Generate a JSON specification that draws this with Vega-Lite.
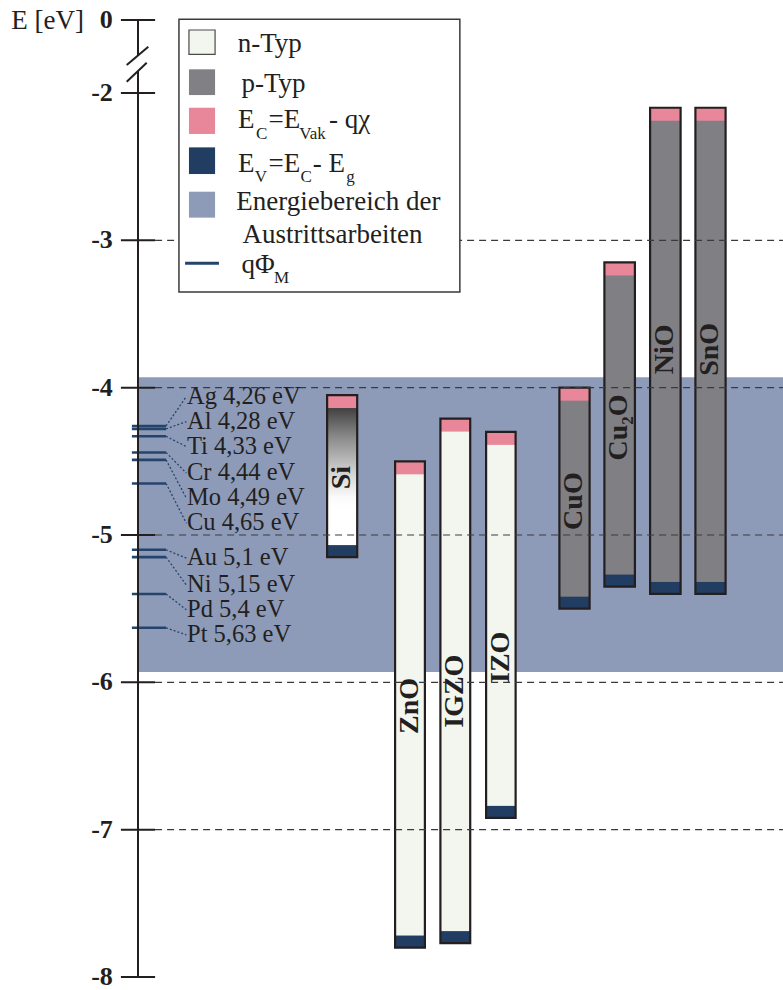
{
  "$schema": "https://vega.github.io/schema/vega-lite/v6.json",
  "width": 645,
  "height": 957,
  "autosize": {"type": "none"},
  "padding": {"left": 138, "top": 20, "right": 0, "bottom": 13},
  "background": "#ffffff",
  "config": {"view": {"stroke": null}, "font": "Liberation Serif"},
  "datasets": {
    "materials": [
      {"material": "Si", "typ": "Si", "ec": -4.05, "ev": -5.15, "x0": 5.864, "x1": 6.797, "label_y": -4.61},
      {"material": "ZnO", "typ": "n", "ec": -4.5, "ev": -7.8, "x0": 7.972, "x1": 8.896, "label_y": -6.16},
      {"material": "IGZO", "typ": "n", "ec": -4.21, "ev": -7.77, "x0": 9.377, "x1": 10.301, "label_y": -6.06},
      {"material": "IZO", "typ": "n", "ec": -4.3, "ev": -6.92, "x0": 10.794, "x1": 11.709, "label_y": -5.83},
      {"material": "CuO", "typ": "p", "ec": -4.0, "ev": -5.5, "x0": 13.067, "x1": 14.003, "label_y": -4.77},
      {"material": "Cu₂O", "typ": "p", "ec": -3.15, "ev": -5.35, "x0": 14.462, "x1": 15.408, "label_y": -4.27},
      {"material": "NiO", "typ": "p", "ec": -2.1, "ev": -5.4, "x0": 15.879, "x1": 16.825, "label_y": -3.74},
      {"material": "SnO", "typ": "p", "ec": -2.1, "ev": -5.4, "x0": 17.284, "x1": 18.22, "label_y": -3.74}
    ],
    "metals": [
      {"label": "Ag 4,26 eV", "e": -4.26, "label_y": -4.06},
      {"label": "Al 4,28 eV", "e": -4.28, "label_y": -4.23},
      {"label": "Ti 4,33 eV", "e": -4.33, "label_y": -4.4},
      {"label": "Cr 4,44 eV", "e": -4.44, "label_y": -4.58},
      {"label": "Mo 4,49 eV", "e": -4.49, "label_y": -4.75},
      {"label": "Cu 4,65 eV", "e": -4.65, "label_y": -4.92},
      {"label": "Au 5,1 eV", "e": -5.1, "label_y": -5.157},
      {"label": "Ni 5,15 eV", "e": -5.15, "label_y": -5.34},
      {"label": "Pd 5,4 eV", "e": -5.4, "label_y": -5.508},
      {"label": "Pt 5,63 eV", "e": -5.63, "label_y": -5.678}
    ],
    "ticks": [
      {"e": -8, "label": "-8"}, {"e": -7, "label": "-7"}, {"e": -6, "label": "-6"},
      {"e": -5, "label": "-5"}, {"e": -4, "label": "-4"}, {"e": -3, "label": "-3"},
      {"e": -2, "label": "-2"}, {"e": 0, "label": "0"}
    ],
    "grid": [{"e": -3}, {"e": -4}, {"e": -5}, {"e": -6}, {"e": -7}],
    "axis_line": [{"top": 0, "bottom": -0.98}, {"top": -1.4, "bottom": -8}],
    "axis_break": [
      {"xa": -0.35, "ya": -1.233, "xb": 0.32, "yb": -0.73},
      {"xa": -0.35, "ya": -1.69, "xb": 0.27, "yb": -1.17}
    ],
    "legend_swatches": [
      {"item": "n-Typ", "x0": 1.58, "x1": 2.39, "e0": -0.274, "e1": -0.94},
      {"item": "p-Typ", "x0": 1.58, "x1": 2.39, "e0": -1.351, "e1": -2.014},
      {"item": "E_C", "x0": 1.58, "x1": 2.39, "e0": -2.1, "e1": -2.278},
      {"item": "E_V", "x0": 1.58, "x1": 2.39, "e0": -2.369, "e1": -2.55},
      {"item": "Austrittsarbeiten", "x0": 1.58, "x1": 2.39, "e0": -2.67, "e1": -2.846}
    ],
    "legend_text": [
      {"text": "n-Typ", "x": 3.09, "e": -0.868},
      {"text": "p-Typ", "x": 3.21, "e": -1.964},
      {"text": "E", "x": 3.1, "e": -2.24},
      {"text": "=E", "x": 4.05, "e": -2.24},
      {"text": "- qχ", "x": 5.92, "e": -2.24},
      {"text": "E", "x": 3.1, "e": -2.534},
      {"text": "=E", "x": 4.05, "e": -2.534},
      {"text": "- E", "x": 5.42, "e": -2.534},
      {"text": "Energiebereich der", "x": 3.05, "e": -2.794},
      {"text": "Austrittsarbeiten", "x": 3.24, "e": -3.018},
      {"text": "qΦ", "x": 3.21, "e": -3.222}
    ],
    "legend_sub": [
      {"text": "C", "x": 3.66, "e": -2.315},
      {"text": "Vak", "x": 5.0, "e": -2.315},
      {"text": "V", "x": 3.62, "e": -2.602},
      {"text": "C", "x": 5.04, "e": -2.602},
      {"text": "g", "x": 6.46, "e": -2.602},
      {"text": "M", "x": 4.22, "e": -3.288}
    ]
  },
  "layer": [
    {
      "data": {"values": [{"top": -3.93, "bottom": -5.93}]},
      "mark": {"type": "rect", "fill": "#8e9bb8"},
      "encoding": {
        "x": {"datum": 0, "type": "quantitative", "scale": {"domain": [0, 20], "nice": false, "zero": false}, "axis": null},
        "x2": {"datum": 20},
        "y": {"field": "top", "type": "quantitative", "scale": {"domain": [-8, -2, 0], "range": [957, 73, 0], "nice": false, "zero": false}, "axis": null},
        "y2": {"field": "bottom"}
      }
    },
    {
      "data": {"name": "materials"},
      "transform": [{"filter": "datum.typ !== 'Si'"}],
      "mark": {"type": "rect"},
      "encoding": {
        "x": {"field": "x0", "type": "quantitative", "scale": {"domain": [0, 20], "nice": false, "zero": false}, "axis": null},
        "x2": {"field": "x1"},
        "y": {"field": "ec", "type": "quantitative", "scale": {"domain": [-8, -2, 0], "range": [957, 73, 0], "nice": false, "zero": false}, "axis": null},
        "y2": {"field": "ev"},
        "color": {"field": "typ", "type": "nominal", "scale": {"domain": ["n", "p"], "range": ["#f2f6ef", "#808084"]}, "legend": null}
      }
    },
    {
      "data": {"name": "materials"},
      "transform": [{"filter": "datum.typ === 'Si'"}],
      "mark": {
        "type": "rect",
        "fill": {
          "gradient": "linear", "x1": 0, "y1": 0, "x2": 0, "y2": 1,
          "stops": [
            {"offset": 0, "color": "#404040"},
            {"offset": 0.09, "color": "#454545"},
            {"offset": 0.26, "color": "#8a8a8a"},
            {"offset": 0.47, "color": "#cfcfcf"},
            {"offset": 0.63, "color": "#fafafa"},
            {"offset": 0.7, "color": "#ffffff"},
            {"offset": 1, "color": "#ffffff"}
          ]
        }
      },
      "encoding": {
        "x": {"field": "x0", "type": "quantitative", "scale": {"domain": [0, 20], "nice": false, "zero": false}, "axis": null},
        "x2": {"field": "x1"},
        "y": {"field": "ec", "type": "quantitative", "scale": {"domain": [-8, -2, 0], "range": [957, 73, 0], "nice": false, "zero": false}, "axis": null},
        "y2": {"field": "ev"}
      }
    },
    {
      "data": {"name": "materials"},
      "mark": {"type": "rule", "color": "#e8879a", "strokeWidth": 13, "strokeCap": "butt", "yOffset": 6.5},
      "encoding": {
        "x": {"field": "x0", "type": "quantitative", "scale": {"domain": [0, 20], "nice": false, "zero": false}, "axis": null},
        "x2": {"field": "x1"},
        "y": {"field": "ec", "type": "quantitative", "scale": {"domain": [-8, -2, 0], "range": [957, 73, 0], "nice": false, "zero": false}, "axis": null}
      }
    },
    {
      "data": {"name": "materials"},
      "mark": {"type": "rule", "color": "#213e62", "strokeWidth": 12, "strokeCap": "butt", "yOffset": -6},
      "encoding": {
        "x": {"field": "x0", "type": "quantitative", "scale": {"domain": [0, 20], "nice": false, "zero": false}, "axis": null},
        "x2": {"field": "x1"},
        "y": {"field": "ev", "type": "quantitative", "scale": {"domain": [-8, -2, 0], "range": [957, 73, 0], "nice": false, "zero": false}, "axis": null}
      }
    },
    {
      "data": {"name": "materials"},
      "mark": {"type": "rect", "fill": "transparent", "stroke": "#231f20", "strokeWidth": 2.2},
      "encoding": {
        "x": {"field": "x0", "type": "quantitative", "scale": {"domain": [0, 20], "nice": false, "zero": false}, "axis": null},
        "x2": {"field": "x1"},
        "y": {"field": "ec", "type": "quantitative", "scale": {"domain": [-8, -2, 0], "range": [957, 73, 0], "nice": false, "zero": false}, "axis": null},
        "y2": {"field": "ev"}
      }
    },
    {
      "data": {"name": "grid"},
      "mark": {"type": "rule", "color": "#3a3a3a", "strokeWidth": 1.2, "strokeDash": [7, 5]},
      "encoding": {
        "x": {"datum": 0.53, "type": "quantitative", "scale": {"domain": [0, 20], "nice": false, "zero": false}, "axis": null},
        "x2": {"datum": 20},
        "y": {"field": "e", "type": "quantitative", "scale": {"domain": [-8, -2, 0], "range": [957, 73, 0], "nice": false, "zero": false}, "axis": null}
      }
    },
    {
      "data": {"name": "metals"},
      "mark": {"type": "rule", "color": "#24446b", "strokeWidth": 2.6},
      "encoding": {
        "x": {"datum": -0.19, "type": "quantitative", "scale": {"domain": [0, 20], "nice": false, "zero": false}, "axis": null},
        "x2": {"datum": 0.87},
        "y": {"field": "e", "type": "quantitative", "scale": {"domain": [-8, -2, 0], "range": [957, 73, 0], "nice": false, "zero": false}, "axis": null}
      }
    },
    {
      "data": {"name": "metals"},
      "mark": {"type": "rule", "color": "#24446b", "strokeWidth": 1.3, "strokeDash": [2, 2]},
      "encoding": {
        "x": {"datum": 0.87, "type": "quantitative", "scale": {"domain": [0, 20], "nice": false, "zero": false}, "axis": null},
        "x2": {"datum": 1.5},
        "y": {"field": "e", "type": "quantitative", "scale": {"domain": [-8, -2, 0], "range": [957, 73, 0], "nice": false, "zero": false}, "axis": null},
        "y2": {"field": "label_y"}
      }
    },
    {
      "data": {"name": "metals"},
      "mark": {"type": "text", "align": "left", "baseline": "middle", "font": "Liberation Serif", "fontSize": 24.5, "color": "#231f20"},
      "encoding": {
        "x": {"datum": 1.52, "type": "quantitative", "scale": {"domain": [0, 20], "nice": false, "zero": false}, "axis": null},
        "y": {"field": "label_y", "type": "quantitative", "scale": {"domain": [-8, -2, 0], "range": [957, 73, 0], "nice": false, "zero": false}, "axis": null},
        "text": {"field": "label"}
      }
    },
    {
      "data": {"name": "materials"},
      "mark": {"type": "text", "angle": 270, "align": "center", "baseline": "middle", "font": "Liberation Serif", "fontWeight": "bold", "fontSize": 28, "color": "#231f20", "xOffset": 15},
      "encoding": {
        "x": {"field": "x0", "type": "quantitative", "scale": {"domain": [0, 20], "nice": false, "zero": false}, "axis": null},
        "y": {"field": "label_y", "type": "quantitative", "scale": {"domain": [-8, -2, 0], "range": [957, 73, 0], "nice": false, "zero": false}, "axis": null},
        "text": {"field": "material"}
      }
    },
    {
      "data": {"name": "axis_line"},
      "mark": {"type": "rule", "color": "#231f20", "strokeWidth": 2},
      "encoding": {
        "x": {"datum": 0, "type": "quantitative", "scale": {"domain": [0, 20], "nice": false, "zero": false}, "axis": null},
        "y": {"field": "top", "type": "quantitative", "scale": {"domain": [-8, -2, 0], "range": [957, 73, 0], "nice": false, "zero": false}, "axis": null},
        "y2": {"field": "bottom"}
      }
    },
    {
      "data": {"name": "ticks"},
      "mark": {"type": "rule", "color": "#231f20", "strokeWidth": 2},
      "encoding": {
        "x": {"datum": -0.53, "type": "quantitative", "scale": {"domain": [0, 20], "nice": false, "zero": false}, "axis": null},
        "x2": {"datum": 0.53},
        "y": {"field": "e", "type": "quantitative", "scale": {"domain": [-8, -2, 0], "range": [957, 73, 0], "nice": false, "zero": false}, "axis": null}
      }
    },
    {
      "data": {"name": "ticks"},
      "mark": {"type": "text", "align": "right", "baseline": "middle", "font": "Liberation Serif", "fontWeight": "bold", "fontSize": 26, "color": "#231f20"},
      "encoding": {
        "x": {"datum": -0.78, "type": "quantitative", "scale": {"domain": [0, 20], "nice": false, "zero": false}, "axis": null},
        "y": {"field": "e", "type": "quantitative", "scale": {"domain": [-8, -2, 0], "range": [957, 73, 0], "nice": false, "zero": false}, "axis": null},
        "text": {"field": "label"}
      }
    },
    {
      "data": {"values": [{"title": "E [eV]", "x": -3.93, "e": -0.247}]},
      "mark": {"type": "text", "align": "left", "baseline": "alphabetic", "font": "Liberation Serif", "fontSize": 27, "color": "#231f20"},
      "encoding": {
        "x": {"field": "x", "type": "quantitative", "scale": {"domain": [0, 20], "nice": false, "zero": false}, "axis": null},
        "y": {"field": "e", "type": "quantitative", "scale": {"domain": [-8, -2, 0], "range": [957, 73, 0], "nice": false, "zero": false}, "axis": null},
        "text": {"field": "title"}
      }
    },
    {
      "data": {"name": "axis_break"},
      "mark": {"type": "rule", "color": "#231f20", "strokeWidth": 2},
      "encoding": {
        "x": {"field": "xa", "type": "quantitative", "scale": {"domain": [0, 20], "nice": false, "zero": false}, "axis": null},
        "x2": {"field": "xb"},
        "y": {"field": "ya", "type": "quantitative", "scale": {"domain": [-8, -2, 0], "range": [957, 73, 0], "nice": false, "zero": false}, "axis": null},
        "y2": {"field": "yb"}
      }
    },
    {
      "data": {"values": [{"x0": 1.27, "x1": 9.98, "e0": 0.02, "e1": -3.35}]},
      "mark": {"type": "rect", "fill": "#ffffff", "stroke": "#3a3a3a", "strokeWidth": 1.5},
      "encoding": {
        "x": {"field": "x0", "type": "quantitative", "scale": {"domain": [0, 20], "nice": false, "zero": false}, "axis": null},
        "x2": {"field": "x1"},
        "y": {"field": "e0", "type": "quantitative", "scale": {"domain": [-8, -2, 0], "range": [957, 73, 0], "nice": false, "zero": false}, "axis": null},
        "y2": {"field": "e1"}
      }
    },
    {
      "data": {"name": "legend_swatches"},
      "mark": {"type": "rect", "strokeWidth": 1.2},
      "encoding": {
        "x": {"field": "x0", "type": "quantitative", "scale": {"domain": [0, 20], "nice": false, "zero": false}, "axis": null},
        "x2": {"field": "x1"},
        "y": {"field": "e0", "type": "quantitative", "scale": {"domain": [-8, -2, 0], "range": [957, 73, 0], "nice": false, "zero": false}, "axis": null},
        "y2": {"field": "e1"},
        "fill": {
          "field": "item", "type": "nominal",
          "scale": {"domain": ["n-Typ", "p-Typ", "E_C", "E_V", "Austrittsarbeiten"], "range": ["#f2f6ef", "#818185", "#e8879a", "#213e62", "#8e9bb8"]},
          "legend": null
        },
        "stroke": {"condition": {"test": "datum.item === 'n-Typ'", "value": "#4a4a4a"}, "value": "transparent"}
      }
    },
    {
      "data": {"values": [{"x0": 1.46, "x1": 2.51, "e": -3.156}]},
      "mark": {"type": "rule", "color": "#24446b", "strokeWidth": 3},
      "encoding": {
        "x": {"field": "x0", "type": "quantitative", "scale": {"domain": [0, 20], "nice": false, "zero": false}, "axis": null},
        "x2": {"field": "x1"},
        "y": {"field": "e", "type": "quantitative", "scale": {"domain": [-8, -2, 0], "range": [957, 73, 0], "nice": false, "zero": false}, "axis": null}
      }
    },
    {
      "data": {"name": "legend_text"},
      "mark": {"type": "text", "align": "left", "baseline": "alphabetic", "font": "Liberation Serif", "fontSize": 27, "color": "#231f20"},
      "encoding": {
        "x": {"field": "x", "type": "quantitative", "scale": {"domain": [0, 20], "nice": false, "zero": false}, "axis": null},
        "y": {"field": "e", "type": "quantitative", "scale": {"domain": [-8, -2, 0], "range": [957, 73, 0], "nice": false, "zero": false}, "axis": null},
        "text": {"field": "text"}
      }
    },
    {
      "data": {"name": "legend_sub"},
      "mark": {"type": "text", "align": "left", "baseline": "alphabetic", "font": "Liberation Serif", "fontSize": 17, "color": "#231f20"},
      "encoding": {
        "x": {"field": "x", "type": "quantitative", "scale": {"domain": [0, 20], "nice": false, "zero": false}, "axis": null},
        "y": {"field": "e", "type": "quantitative", "scale": {"domain": [-8, -2, 0], "range": [957, 73, 0], "nice": false, "zero": false}, "axis": null},
        "text": {"field": "text"}
      }
    }
  ]
}
